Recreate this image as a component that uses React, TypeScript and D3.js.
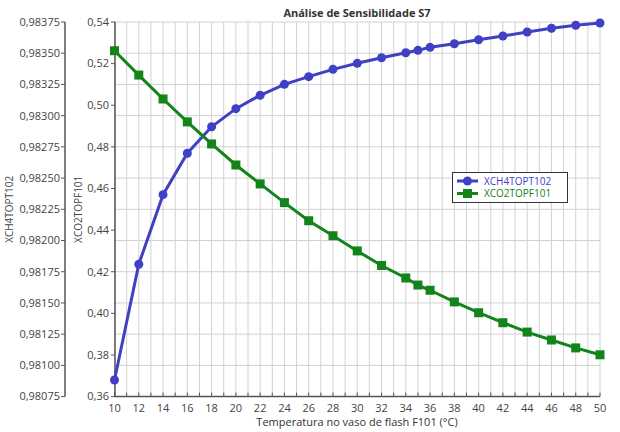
import React from "react";
import * as d3 from "d3";

const temps = [10, 12, 14, 16, 18, 20, 22, 24, 26, 28, 30, 32, 34, 35, 36, 38, 40, 42, 44, 46, 48, 50];
const xch4 = [0.980883, 0.98181, 0.982367, 0.982699, 0.982911, 0.983056, 0.983163, 0.983251, 0.983312, 0.983371, 0.983419, 0.983464, 0.983504, 0.983523, 0.983547, 0.983576, 0.983608, 0.983638, 0.98367, 0.9837, 0.983724, 0.983742];
const xco2 = [0.5262, 0.5145, 0.503, 0.492, 0.4814, 0.4713, 0.4622, 0.4532, 0.4445, 0.4373, 0.43, 0.423, 0.417, 0.4136, 0.4111, 0.4055, 0.4003, 0.3955, 0.391, 0.3872, 0.3834, 0.3801];
const leftTicks = [0.98075, 0.981, 0.98125, 0.9815, 0.98175, 0.982, 0.98225, 0.9825, 0.98275, 0.983, 0.98325, 0.9835, 0.98375];
const rightTicks = [0.36, 0.38, 0.4, 0.42, 0.44, 0.46, 0.48, 0.5, 0.52, 0.54];
const xTicks = [10, 12, 14, 16, 18, 20, 22, 24, 26, 28, 30, 32, 34, 36, 38, 40, 42, 44, 46, 48, 50];
const seriesNames = ["XCH4TOPT102", "XCO2TOPF101"];
const title = "Análise de Sensibilidade S7";
const xTitle = "Temperatura no vaso de flash F101 (°C)";

const BLUE = "#4040C4";
const GREEN = "#13841A";
const AXIS = "#555";
const GRID = "#d2d2d2";
const FONT = "'Open Sans', sans-serif";

export default function App() {
  const W = 620, H = 432;
  const x = d3.scaleLinear().domain([10, 50]).range([114.5, 600]);
  const yL = d3.scaleLinear().domain([0.98075, 0.98375]).range([396.6, 22]);
  const yR = d3.scaleLinear().domain([0.36, 0.54]).range([396.6, 22]);
  const minor = d3.range(10, 51, 1);
  const fmtL = (v: number) => d3.format(".5f")(v).replace(".", ",");
  const fmtR = (v: number) => d3.format(".2f")(v).replace(".", ",");
  const lineB = d3.line<number>().x((_, i) => x(temps[i])).y((d) => yL(d));
  const lineG = d3.line<number>().x((_, i) => x(temps[i])).y((d) => yR(d));
  const axL = 65, axR = 115;
  const yTop = yL.range()[1], yBot = yL.range()[0];

  return (
    <svg width={W} height={H} style={{ position: "absolute", left: 0, top: 0, background: "#fff" }} fontFamily={FONT}>
      <rect x={0} y={0} width={W} height={H} fill="#fff" />
      {/* grid */}
      {minor.map((t) => (
        <line key={"gv" + t} x1={x(t)} x2={x(t)} y1={yTop} y2={yBot} stroke={GRID} strokeWidth={1} />
      ))}
      {leftTicks.map((t) => (
        <line key={"gh" + t} x1={x(10)} x2={x(50)} y1={yL(t)} y2={yL(t)} stroke={GRID} strokeWidth={1} />
      ))}
      {/* title */}
      <text x={357} y={17} textAnchor="middle" fontSize={11} fontWeight="bold" fill="#333">{title}</text>
      {/* left axis 1 */}
      <line x1={axL} x2={axL} y1={yTop} y2={yBot} stroke={AXIS} strokeWidth={1.5} />
      {leftTicks.map((t) => (
        <g key={"lt" + t}>
          <line x1={axL - 4} x2={axL} y1={yL(t)} y2={yL(t)} stroke={AXIS} strokeWidth={1} />
          <text x={axL - 5} y={yL(t)} dy="0.35em" textAnchor="end" fontSize={11} fill="#444">{fmtL(t)}</text>
        </g>
      ))}
      <text transform={`translate(13,${(yTop + yBot) / 2}) rotate(-90)`} textAnchor="middle" fontSize={10} fill="#444">{seriesNames[0]}</text>
      {/* left axis 2 */}
      <line x1={axR} x2={axR} y1={yTop} y2={yBot} stroke={AXIS} strokeWidth={1.5} />
      {rightTicks.map((t) => (
        <g key={"rt" + t}>
          <line x1={axR - 4} x2={axR} y1={yR(t)} y2={yR(t)} stroke={AXIS} strokeWidth={1} />
          <text x={axR - 6} y={yR(t)} dy="0.35em" textAnchor="end" fontSize={11} fill="#444">{fmtR(t)}</text>
        </g>
      ))}
      <text transform={`translate(82,${(yTop + yBot) / 2}) rotate(-90)`} textAnchor="middle" fontSize={10} fill="#444">{seriesNames[1]}</text>
      {/* x axis */}
      <line x1={x(10)} x2={x(50)} y1={yBot} y2={yBot} stroke={AXIS} strokeWidth={1.5} />
      {minor.map((t) => (
        <line key={"xt" + t} x1={x(t)} x2={x(t)} y1={yBot} y2={yBot - 4} stroke={AXIS} strokeWidth={1} />
      ))}
      {xTicks.map((t) => (
        <text key={"xl" + t} x={x(t)} y={412} textAnchor="middle" fontSize={11} fill="#444">{t}</text>
      ))}
      <text x={357} y={426} textAnchor="middle" fontSize={11} fill="#333">{xTitle}</text>
      {/* series */}
      <path d={lineB(xch4) || ""} fill="none" stroke={BLUE} strokeWidth={3} />
      {xch4.map((v, i) => (
        <circle key={"b" + i} cx={x(temps[i])} cy={yL(v)} r={4.5} fill={BLUE} />
      ))}
      <path d={lineG(xco2) || ""} fill="none" stroke={GREEN} strokeWidth={3} />
      {xco2.map((v, i) => (
        <rect key={"g" + i} x={x(temps[i]) - 4.5} y={yR(v) - 4.5} width={9} height={9} fill={GREEN} />
      ))}
      {/* legend */}
      <g>
        <rect x={452.5} y={172.5} width={115} height={30} fill="#fff" stroke="#333" strokeWidth={1} />
        <line x1={457} x2={478} y1={181} y2={181} stroke={BLUE} strokeWidth={3} />
        <circle cx={467.5} cy={181} r={4.5} fill={BLUE} />
        <text x={484} y={181} dy="0.35em" fontSize={10} fill={BLUE}>{seriesNames[0]}</text>
        <line x1={457} x2={478} y1={193.5} y2={193.5} stroke={GREEN} strokeWidth={3} />
        <rect x={463} y={189} width={9} height={9} fill={GREEN} />
        <text x={484} y={193.5} dy="0.35em" fontSize={10} fill={GREEN}>{seriesNames[1]}</text>
      </g>
    </svg>
  );
}
